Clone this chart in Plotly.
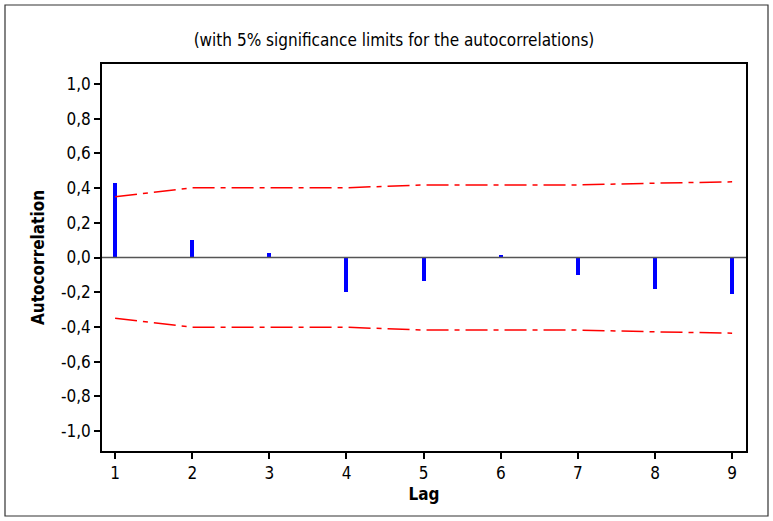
import plotly.graph_objects as go

lags = [1, 2, 3, 4, 5, 6, 7, 8, 9]
acf = [0.43, 0.098, 0.027, -0.20, -0.137, 0.013, -0.098, -0.184, -0.213]
upper = [0.35, 0.402, 0.402, 0.402, 0.418, 0.418, 0.418, 0.428, 0.436]
lower = [-v for v in upper]
yticks = [1.0, 0.8, 0.6, 0.4, 0.2, 0.0, -0.2, -0.4, -0.6, -0.8, -1.0]
ytick_text = [f"{v:.1f}".replace(".", ",") for v in yticks]

W, H = 773, 521
L, R, T, B = 102, 27, 64, 70
pw, ph = W - L - R, H - T - B

font = "DejaVu Sans Condensed, DejaVu Sans, sans-serif"

fig = go.Figure()
fig.add_trace(go.Bar(x=lags, y=acf, width=0.052, marker=dict(color="#0000FF", line=dict(width=0)),
                     showlegend=False))
fig.add_trace(go.Scatter(x=lags, y=upper, mode="lines",
                         line=dict(color="#FF0000", width=1.5, dash="22px,6px,5px,6px"), showlegend=False))
fig.add_trace(go.Scatter(x=lags, y=lower, mode="lines",
                         line=dict(color="#FF0000", width=1.5, dash="22px,6px,5px,6px"), showlegend=False))

fig.add_shape(type="line", xref="paper", yref="y", x0=0, x1=1, y0=0, y1=0,
              line=dict(color="#555555", width=1.5))
# outer figure border
fig.add_shape(type="rect", xref="paper", yref="paper",
              x0=(5 - L) / pw, x1=(768 - L) / pw,
              y0=-(516 - T - ph) / ph, y1=1 + (T - 5) / ph,
              line=dict(color="#333333", width=1.2))

fig.update_layout(
    width=W, height=H,
    margin=dict(l=L, r=R, t=T, b=B),
    paper_bgcolor="white", plot_bgcolor="white",
    bargap=0,
    font=dict(family=font, size=17, color="black"),
    title=dict(text="(with 5% significance limits for the autocorrelations)",
               x=(394 - L) / pw, xref="paper", xanchor="center",
               y=1 - 40 / H, yanchor="middle",
               font=dict(size=17, family=font)),
)
fig.update_xaxes(range=[0.83, 9.18], tickvals=lags, ticks="outside", ticklen=6, tickwidth=1.5,
                 tickcolor="black", showline=True, linecolor="black", linewidth=1.5, mirror=True,
                 showgrid=False, zeroline=False, tickfont=dict(size=17),
                 title=dict(text="<b>Lag</b>", font=dict(size=17), standoff=6))
fig.update_yaxes(range=[-1.115, 1.115], tickvals=yticks, ticktext=ytick_text, ticks="outside",
                 ticklen=6, tickwidth=1.5, tickcolor="black", showline=True, linecolor="black",
                 linewidth=1.5, mirror=True, showgrid=False, zeroline=False, tickfont=dict(size=17),
                 title=dict(text="<b>Autocorrelation</b>", font=dict(size=17), standoff=12))

fig.write_html("out.html")
